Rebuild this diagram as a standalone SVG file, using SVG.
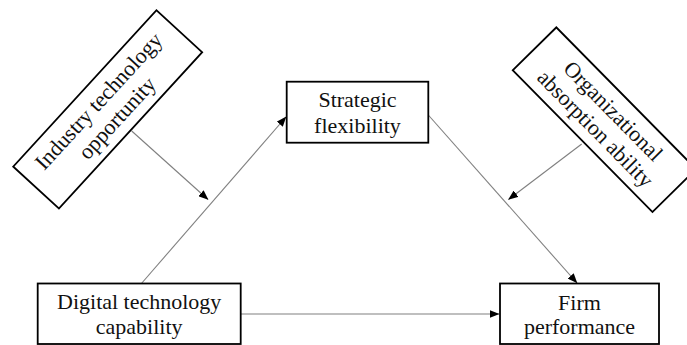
<svg xmlns="http://www.w3.org/2000/svg" width="687" height="345" viewBox="0 0 687 345">
<defs>
<style>
.box{fill:#fff;stroke:#000;stroke-width:1.8}
.t{font-family:"Liberation Serif","Times New Roman",serif;font-size:22px;fill:#111;text-anchor:middle}
.c{stroke:#808080;stroke-width:1.1;fill:none}
.a{marker-end:url(#ah)}
</style>
<marker id="ah" markerWidth="10" markerHeight="8" refX="9.5" refY="4" orient="auto" markerUnits="userSpaceOnUse">
<path d="M0,0 L10,4 L0,8 z" fill="#000"/>
</marker>
</defs>
<rect width="687" height="345" fill="#fff"/>
<g id="connectors">
<line class="c a" x1="141" y1="284" x2="286" y2="117"/>
<line class="c a" x1="428.3" y1="115" x2="577" y2="283"/>
<line class="c a" x1="241" y1="314" x2="499" y2="314"/>
<line class="c a" x1="131.7" y1="131" x2="208" y2="199.5"/>
<line class="c a" x1="581.7" y1="144" x2="508.5" y2="199.5"/>
</g>
<g id="industry" transform="translate(107.7,109.4) rotate(-47.5)">
<rect class="box" x="-106" y="-31" width="212" height="62"/>
<text class="t" x="0" y="-5">Industry technology</text>
<text class="t" x="0" y="20">opportunity</text>
</g>
<g id="organizational" transform="translate(604.4,119.7) rotate(45.4)">
<rect class="box" x="-99.5" y="-30.6" width="199" height="61.2"/>
<text class="t" x="0" y="-5">Organizational</text>
<text class="t" x="0" y="20">absorption ability</text>
</g>
<g id="strategic">
<rect class="box" x="286.7" y="81.7" width="141.6" height="61"/>
<text class="t" x="357.5" y="106.7">Strategic</text>
<text class="t" x="357.5" y="133">flexibility</text>
</g>
<g id="digital">
<rect class="box" x="37.7" y="283.5" width="203" height="60.5"/>
<text class="t" x="139.2" y="309.3">Digital technology</text>
<text class="t" x="139.2" y="334">capability</text>
</g>
<g id="firm">
<rect class="box" x="500" y="283.5" width="159" height="60.5"/>
<text class="t" x="579.5" y="310">Firm</text>
<text class="t" x="579.5" y="334">performance</text>
</g>
</svg>
